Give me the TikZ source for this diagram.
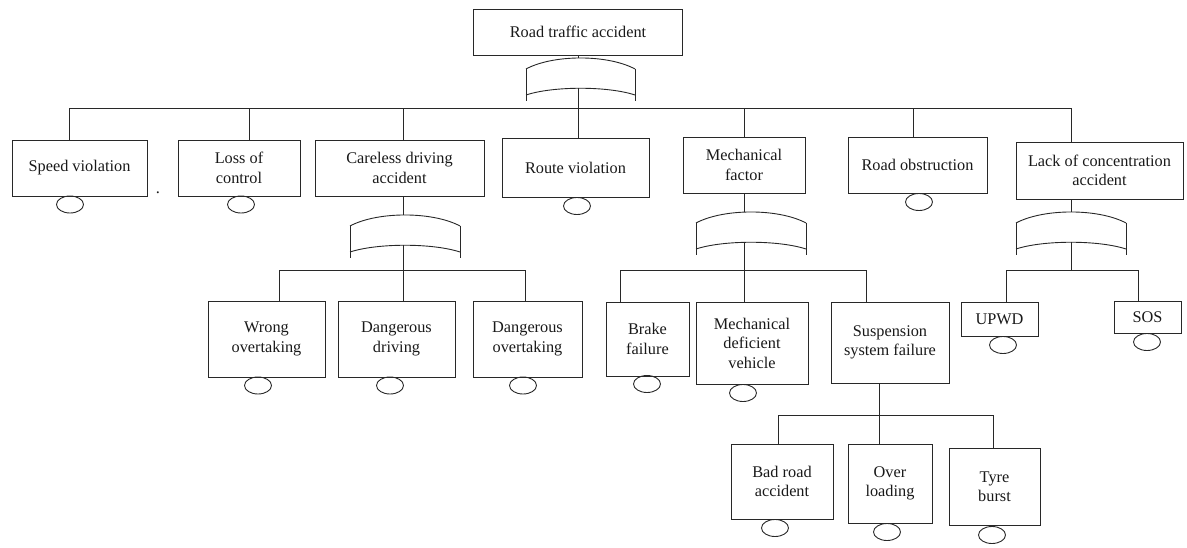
\documentclass[tikz,border=0pt]{standalone}
\usepackage{fontspec}
\setmainfont{Liberation Serif}
\newfontfamily\boxfont{Liberation Serif}
\usetikzlibrary{shapes.geometric}
\definecolor{linec}{RGB}{40,40,40}
\definecolor{textc}{RGB}{25,25,25}
\tikzset{
  box/.style={draw=linec, line width=0.9pt, inner sep=1pt, align=center,
    font=\boxfont\fontsize{16.3}{19.5}\selectfont, text=textc},
  evt/.style={draw=linec, line width=0.9pt, ellipse, minimum width=27pt,
    minimum height=17pt, inner sep=0pt},
  conn/.style={draw=linec, line width=0.9pt},
  gateline/.style={draw=linec, line width=0.9pt},
  straytext/.style={font=\boxfont\fontsize{16.3}{19.5}\selectfont, text=textc, inner sep=0pt}
}
% #1 name, #2 left x, #3 right x, #4 top (peak) y, #5 x of connector
\newcommand\orgate[5]{%
  \draw[gateline] (#2,{#4+11}) .. controls ({#2+0.25*(#3-#2)},{#4-3.7}) and ({#3-0.25*(#3-#2)},{#4-3.7}) .. (#3,{#4+11});
  \draw[gateline] (#2,{#4+11}) -- (#2,{#4+43});
  \draw[gateline] (#3,{#4+11}) -- (#3,{#4+43});
  \draw[gateline] (#2,{#4+37}) .. controls ({#2+0.25*(#3-#2)},{#4+28}) and ({#3-0.25*(#3-#2)},{#4+28}) .. (#3,{#4+37});
  \coordinate (#1-in) at (#5,#4);
  \coordinate (#1-out) at (#5,{#4+30});
}
\begin{document}
\begin{tikzpicture}[x=1pt,y=-1pt]
\useasboundingbox (0,0) rectangle (1187,548);

% ---- boxes ----
\node[box,minimum width=209pt,minimum height=46pt] (top) at (578,32) {Road traffic accident};

\node[box,minimum width=135pt,minimum height=56pt] (speed) at (79.5,168) {Speed violation};
\node[box,minimum width=122pt,minimum height=56pt] (loss) at (239,168) {Loss of\\control};
\node[box,minimum width=169pt,minimum height=56pt] (careless) at (399.5,168) {Careless driving\\accident};
\node[box,minimum width=147pt,minimum height=59pt] (route) at (575.5,167.5) {Route violation};
\node[box,minimum width=122pt,minimum height=56pt] (mech) at (744,165) {Mechanical\\factor};
\node[box,minimum width=139pt,minimum height=56pt] (obstr) at (917.5,165) {Road obstruction};
\node[box,minimum width=167pt,minimum height=57pt] (lack) at (1099.5,170.5) {Lack of concentration\\accident};

\node[box,minimum width=117pt,minimum height=76pt] (wrong) at (266.5,339) {Wrong\\overtaking};
\node[box,minimum width=117pt,minimum height=76pt] (ddriving) at (396.5,339) {Dangerous\\driving};
\node[box,minimum width=109pt,minimum height=76pt] (dovert) at (527.5,339) {Dangerous\\overtaking};

\node[box,minimum width=83pt,minimum height=74pt] (brake) at (647.5,339) {Brake\\failure};
\node[box,minimum width=112pt,minimum height=82pt] (mdv) at (752,343) {Mechanical\\deficient\\vehicle};
\node[box,minimum width=118pt,minimum height=81pt] (susp) at (890,342.5) {Suspension\\system failure};

\node[box,minimum width=77pt,minimum height=34pt] (upwd) at (999.5,319) {UPWD};
\node[box,minimum width=67pt,minimum height=32pt] (sos) at (1147.5,317) {SOS};

\node[box,minimum width=102pt,minimum height=75pt] (badroad) at (782,481.5) {Bad road\\accident};
\node[box,minimum width=84pt,minimum height=79pt] (overload) at (890,483.5) {Over\\loading};
\node[box,minimum width=91pt,minimum height=77pt] (tyre) at (994.5,486.5) {Tyre\\burst};

% ---- basic events ----
\node[evt] (speedE) at (70,204.5) {};
\node[evt] (lossE) at (241,204.5) {};
\node[evt] (routeE) at (577,206) {};
\node[evt] (obstrE) at (919,202) {};
\node[evt] (wrongE) at (258,385.5) {};
\node[evt] (ddrivingE) at (390,385.5) {};
\node[evt] (dovertE) at (523,385.5) {};
\node[evt] (brakeE) at (647,384) {};
\node[evt] (mdvE) at (743,393) {};
\node[evt] (upwdE) at (1003,345) {};
\node[evt] (sosE) at (1147,342) {};
\node[evt] (badroadE) at (775,528) {};
\node[evt] (overloadE) at (887,532) {};
\node[evt] (tyreE) at (992,535) {};

\node[straytext] (dot) at (158,193) {.};

% ---- gates ----
\orgate{g0}{526}{635}{58}{578}
\orgate{g1}{350}{460}{215}{403}
\orgate{g2}{696}{806}{212}{744}
\orgate{g3}{1016}{1126}{212}{1071}

% ---- connectors: top level ----
\coordinate (bar0) at (578,108);
\draw[conn] (top.south) -- (g0-in);
\draw[conn] (g0-out) -- (bar0);
\draw[conn] (bar0) -| ([xshift=-10.5pt]speed.north);
\draw[conn] (bar0) -| ([xshift=10pt]loss.north);
\draw[conn] (bar0) -| ([xshift=3.5pt]careless.north);
\draw[conn] (bar0) -| ([xshift=2.5pt]route.north);
\draw[conn] (bar0) -| (mech.north);
\draw[conn] (bar0) -| ([xshift=-4.5pt]obstr.north);
\draw[conn] (bar0) -| ([xshift=-28.5pt]lack.north);

% careless driving
\coordinate (bar1) at (403,270);
\draw[conn] ([xshift=3.5pt]careless.south) -- (g1-in);
\draw[conn] (g1-out) -- (bar1);
\draw[conn] (bar1) -| ([xshift=12.5pt]wrong.north);
\draw[conn] (bar1) -| ([xshift=6.5pt]ddriving.north);
\draw[conn] (bar1) -| ([xshift=-2.5pt]dovert.north);

% mechanical factor
\coordinate (bar2) at (744,270);
\draw[conn] (mech.south) -- (g2-in);
\draw[conn] (g2-out) -- (bar2);
\draw[conn] (bar2) -| ([xshift=-27.5pt]brake.north);
\draw[conn] (bar2) -| ([xshift=-8pt]mdv.north);
\draw[conn] (bar2) -| ([xshift=-24pt]susp.north);

% lack of concentration
\coordinate (bar3) at (1071,270);
\draw[conn] ([xshift=-28.5pt]lack.south) -- (g3-in);
\draw[conn] (g3-out) -- (bar3);
\draw[conn] (bar3) -| ([xshift=6.5pt]upwd.north);
\draw[conn] (bar3) -| ([xshift=-9.5pt]sos.north);

% suspension system failure
\coordinate (bar4) at (879,415);
\draw[conn] ([xshift=-11pt]susp.south) -- (bar4);
\draw[conn] (bar4) -| ([xshift=-4pt]badroad.north);
\draw[conn] (bar4) -| ([xshift=-11pt]overload.north);
\draw[conn] (bar4) -| ([xshift=-1.5pt]tyre.north);
\end{tikzpicture}
\end{document}
